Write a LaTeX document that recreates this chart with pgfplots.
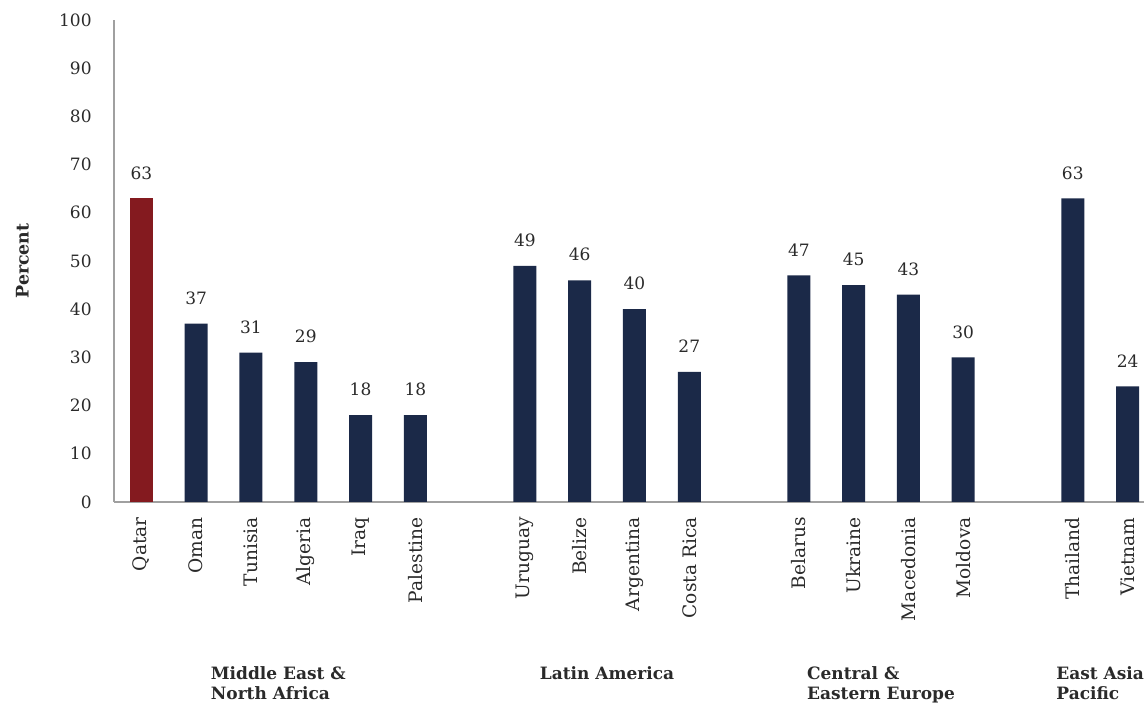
\documentclass[border=0pt]{standalone}
\usepackage{pgfplots}
\pgfplotsset{compat=1.18}
\usepackage{fontspec}
\setmainfont{DejaVu Serif}
\definecolor{qred}{HTML}{841A1F}
\definecolor{navy}{HTML}{1B2948}
\definecolor{axgray}{HTML}{A0A0A0}
\definecolor{txt}{HTML}{2A2A2A}
\begin{document}
\begin{tikzpicture}
\begin{axis}[
 at={(0,0)}, anchor=south west,
 width=515pt, height=241pt, scale only axis,
 xmin=-0.5, xmax=18.3, ymin=0, ymax=100,
 axis lines*=left,
 axis line style={axgray, line width=1pt},
 ytick={0,10,...,100},
 xtick={0,1,2,3,4,5,7,8,9,10,12,13,14,15,17,18},
 xticklabels={Qatar,Oman,Tunisia,Algeria,Iraq,Palestine,Uruguay,Belize,Argentina,Costa Rica,Belarus,Ukraine,Macedonia,Moldova,Thailand,Vietnam},
 major tick length=0pt,
 tick label style={font=\fontsize{8.5}{10}\selectfont, text=txt, inner sep=0pt},
 /pgf/number format/assume math mode=true,
 x tick label style={rotate=90, anchor=east, font=\fontsize{9.3}{11}\selectfont},
 xticklabel shift=7.5pt,
 yticklabel shift=11pt,
 ylabel={Percent},
 ylabel style={at={(rel axis cs:-0.089,0.5)}, anchor=center, font=\bfseries\fontsize{8.7}{10}\selectfont, text=txt},
 ybar, bar width=11.5pt,
 nodes near coords,
 every node near coord/.append style={font=\fontsize{8.5}{10}\selectfont, text=txt, yshift=6pt},
 clip=false,
]
\addplot[fill=qred, draw=none, bar shift=0pt] coordinates {(0,63)};
\addplot[fill=navy, draw=none, bar shift=0pt] coordinates {
 (1,37) (2,31) (3,29) (4,18) (5,18)
 (7,49) (8,46) (9,40) (10,27)
 (12,47) (13,45) (14,43) (15,30)
 (17,63) (18,24)};
\node[anchor=north, align=left, inner sep=0pt, yshift=-82pt, text=txt, font=\bfseries\fontsize{8.5}{10}\selectfont] at (axis cs:2.5,0) {Middle East \&\\North Africa};
\node[anchor=north, align=left, inner sep=0pt, yshift=-82pt, text=txt, font=\bfseries\fontsize{8.5}{10}\selectfont] at (axis cs:8.5,0) {Latin America};
\node[anchor=north, align=left, inner sep=0pt, yshift=-82pt, text=txt, font=\bfseries\fontsize{8.5}{10}\selectfont] at (axis cs:13.5,0) {Central \&\\Eastern Europe};
\node[anchor=north, align=left, inner sep=0pt, yshift=-82pt, text=txt, font=\bfseries\fontsize{8.5}{10}\selectfont] at (axis cs:17.5,0) {East Asia\\Pacific};
\end{axis}
\pgfresetboundingbox
\useasboundingbox (-57pt,-101pt) rectangle (515pt,251pt);
\end{tikzpicture}
\end{document}
